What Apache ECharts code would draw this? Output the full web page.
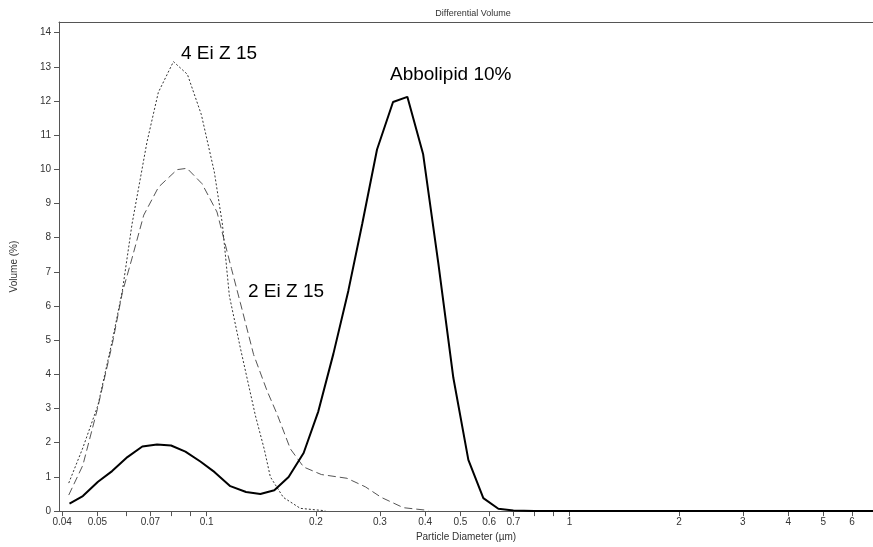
<!DOCTYPE html>
<html>
<head>
<meta charset="utf-8">
<title>Differential Volume</title>
<script src="https://cdn.jsdelivr.net/npm/echarts@6/dist/echarts.min.js"></script>
<style>
  html, body { margin: 0; padding: 0; background: #fff; }
  #chart { width: 873px; height: 547px; }
</style>
</head>
<body>
<div id="chart"></div>
<script>
// particle diameter (um) / volume (%) pairs
const abbolipid = [
  [0.0419, 0.22], [0.0456, 0.44], [0.0502, 0.86], [0.0549, 1.17], [0.0605, 1.58],
  [0.0665, 1.89], [0.0730, 1.95], [0.0798, 1.92], [0.0874, 1.74], [0.0961, 1.45],
  [0.1052, 1.14], [0.1162, 0.73], [0.1284, 0.56], [0.1406, 0.50], [0.1536, 0.61],
  [0.1682, 1.00], [0.1850, 1.70], [0.2031, 2.92], [0.2234, 4.6], [0.2457, 6.45],
  [0.2685, 8.42], [0.2947, 10.58], [0.3262, 11.97], [0.3572, 12.12], [0.3947, 10.45],
  [0.4348, 7.25], [0.4782, 3.9], [0.5260, 1.5], [0.5784, 0.38], [0.6362, 0.07],
  [0.6997, 0.02], [0.80, 0], [6.9, 0],
];

const eiZ15x2 = [
  [0.0417, 0.47], [0.0456, 1.34], [0.0500, 2.98], [0.0550, 4.9], [0.0586, 6.4],
  [0.0623, 7.4], [0.0671, 8.66], [0.0737, 9.48], [0.0829, 9.99], [0.0883, 10.03],
  [0.0971, 9.58], [0.1068, 8.75], [0.1170, 7.1], [0.1238, 6.1], [0.1347, 4.58],
  [0.1467, 3.52], [0.1563, 2.84], [0.1701, 1.82], [0.1850, 1.29], [0.2070, 1.07],
  [0.2436, 0.96], [0.2737, 0.71], [0.3029, 0.4], [0.3483, 0.1], [0.4081, 0.02],
];

const eiZ15x4 = [
  [0.0417, 0.82], [0.0456, 1.85], [0.0502, 3.1], [0.0550, 5.0], [0.0586, 6.45],
  [0.0623, 8.4], [0.0685, 10.8], [0.0736, 12.25], [0.0810, 13.15], [0.0885, 12.78],
  [0.0967, 11.6], [0.1050, 9.92], [0.1105, 8.4], [0.1155, 6.3], [0.1238, 4.78],
  [0.1362, 2.8], [0.1442, 1.8], [0.1498, 1.0], [0.1627, 0.4], [0.1812, 0.08],
  [0.2123, 0.01],
];

const xTickValues = [0.04, 0.05, 0.06, 0.07, 0.08, 0.09, 0.1, 0.2, 0.3, 0.4, 0.5, 0.6, 0.7, 0.8, 0.9, 1, 2, 3, 4, 5, 6];
const xLabelValues = [0.04, 0.05, 0.07, 0.1, 0.2, 0.3, 0.4, 0.5, 0.6, 0.7, 1, 2, 3, 4, 5, 6];
const yTickValues = [0, 1, 2, 3, 4, 5, 6, 7, 8, 9, 10, 11, 12, 13, 14];

const FONT = "Liberation Sans";
const AXIS_COLOR = "#555";
const LABEL_COLOR = "#333";

const chart = echarts.init(document.getElementById("chart"), null, { renderer: "canvas" });

chart.setOption({
  backgroundColor: "#fff",
  animation: false,
  title: {
    text: "Differential Volume",
    left: 468,
    top: 4,
    textAlign: "center",
    textStyle: { fontFamily: FONT, fontSize: 9, fontWeight: "normal", color: LABEL_COLOR },
  },
  grid: { left: 59, right: 0, top: 22, bottom: 33 },
  xAxis: [
    {
      type: "log",
      logBase: 10,
      min: 0.0392,
      max: 6.85,
      name: "Particle Diameter (µm)",
      nameLocation: "middle",
      nameGap: 18,
      nameTextStyle: { fontFamily: FONT, fontSize: 10, color: LABEL_COLOR },
      axisLine: { lineStyle: { color: AXIS_COLOR } },
      axisTick: { customValues: xTickValues, length: 5, lineStyle: { color: AXIS_COLOR } },
      minorTick: { show: false },
      axisLabel: {
        customValues: xLabelValues,
        margin: 6,
        fontFamily: FONT, fontSize: 10, color: LABEL_COLOR,
        formatter: (v) => String(parseFloat(Number(v).toPrecision(3))),
      },
      splitLine: { show: false },
    },
    {
      // top frame line only
      type: "log",
      position: "top",
      min: 0.0392,
      max: 6.85,
      axisLine: { show: true, lineStyle: { color: AXIS_COLOR } },
      axisTick: { show: false },
      axisLabel: { show: false },
      splitLine: { show: false },
    },
  ],
  yAxis: {
    type: "value",
    min: 0,
    max: 14.31,
    name: "Volume (%)",
    nameLocation: "middle",
    nameRotate: 90,
    nameGap: 40,
    nameTextStyle: { fontFamily: FONT, fontSize: 10, color: LABEL_COLOR },
    axisLine: { show: true, lineStyle: { color: AXIS_COLOR } },
    axisTick: { show: true, customValues: yTickValues, length: 5, lineStyle: { color: AXIS_COLOR } },
    axisLabel: { customValues: yTickValues, margin: 8, fontFamily: FONT, fontSize: 10, color: LABEL_COLOR },
    splitLine: { show: false },
  },
  series: [
    {
      name: "2 Ei Z 15",
      type: "line",
      symbol: "none",
      lineStyle: { color: "#555", width: 1, type: [8, 4] },
      data: eiZ15x2,
    },
    {
      name: "4 Ei Z 15",
      type: "line",
      symbol: "none",
      lineStyle: { color: "#333", width: 1, type: [2, 2] },
      data: eiZ15x4,
    },
    {
      name: "Abbolipid 10%",
      type: "line",
      symbol: "none",
      lineStyle: { color: "#000", width: 2 },
      data: abbolipid,
    },
  ],
  graphic: [
    { type: "text", x: 181, y: 54, style: { text: "4 Ei Z 15", font: `19px "${FONT}"`, fill: "#000", verticalAlign: "middle" } },
    { type: "text", x: 390, y: 75, style: { text: "Abbolipid 10%", font: `19px "${FONT}"`, fill: "#000", verticalAlign: "middle" } },
    { type: "text", x: 248, y: 292, style: { text: "2 Ei Z 15", font: `19px "${FONT}"`, fill: "#000", verticalAlign: "middle" } },
  ],
});
</script>
</body>
</html>
